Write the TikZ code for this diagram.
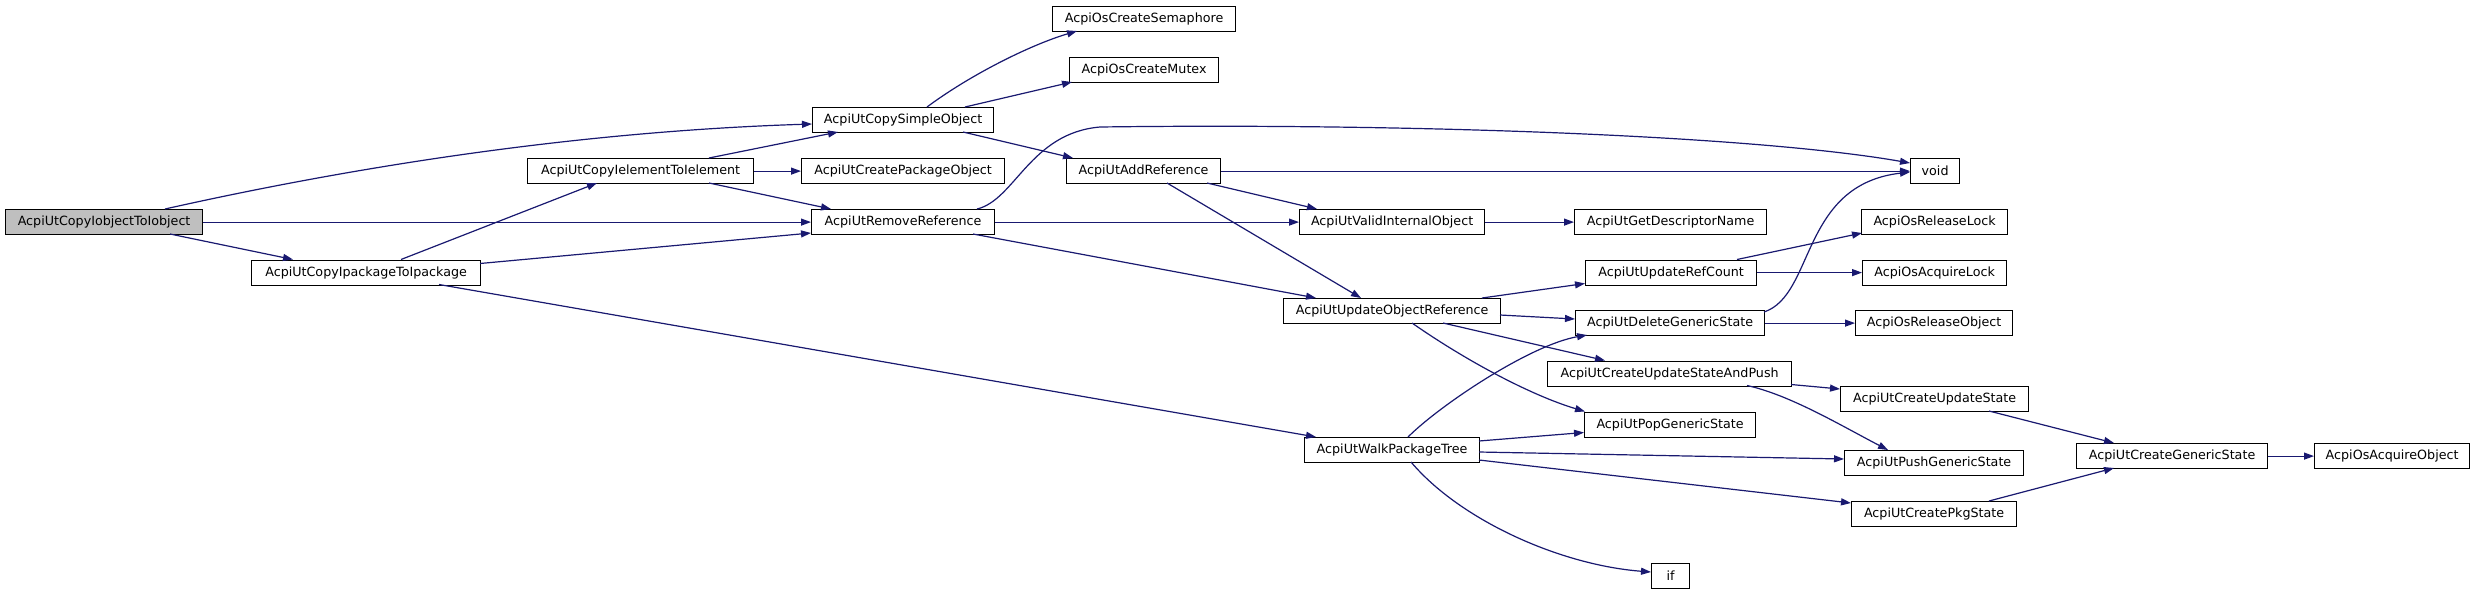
\documentclass[tikz,border=0pt]{standalone}
\usepackage{fontspec}
\setmainfont{DejaVu Sans}
\usetikzlibrary{arrows.meta,calc}
\definecolor{edgec}{HTML}{191970}
\definecolor{hl}{HTML}{BFBFBF}
\tikzset{
  fn/.style={draw=black, line width=1.2pt, fill=white, rectangle, minimum height=25pt,
    inner sep=1pt, anchor=north west, font=\fontsize{12.7}{15}\selectfont},
  cn/.style={draw=edgec, line width=1.2pt, -{Triangle[length=10pt,width=7pt]}}
}
\begin{document}
\begin{tikzpicture}[x=1pt,y=-1pt]
\useasboundingbox[fill=white] (0,0) rectangle (2475,595);
% nodes
\node[fn, fill=hl, minimum width=197pt] (io) at (5,209) {AcpiUtCopyIobjectToIobject};
\node[fn, minimum width=229pt] (ipk) at (251,259.5) {AcpiUtCopyIpackageToIpackage};
\node[fn, minimum width=183pt] (sem) at (1052,6) {AcpiOsCreateSemaphore};
\node[fn, minimum width=149pt] (mutex) at (1069,57) {AcpiOsCreateMutex};
\node[fn, minimum width=181pt] (simple) at (812,107) {AcpiUtCopySimpleObject};
\node[fn, minimum width=226pt] (iel) at (527,158) {AcpiUtCopyIelementToIelement};
\node[fn, minimum width=203pt] (cpo) at (801,158) {AcpiUtCreatePackageObject};
\node[fn, minimum width=154pt] (addref) at (1066,158) {AcpiUtAddReference};
\node[fn, minimum width=183pt] (remref) at (811,209) {AcpiUtRemoveReference};
\node[fn, minimum width=49pt] (void) at (1910,158) {void};
\node[fn, minimum width=185pt] (valid) at (1299,209) {AcpiUtValidInternalObject};
\node[fn, minimum width=192pt] (gdn) at (1574,209) {AcpiUtGetDescriptorName};
\node[fn, minimum width=146pt] (orl) at (1861,209) {AcpiOsReleaseLock};
\node[fn, minimum width=171pt] (urc) at (1585,259.5) {AcpiUtUpdateRefCount};
\node[fn, minimum width=144pt] (oal) at (1862,259.5) {AcpiOsAcquireLock};
\node[fn, minimum width=217pt] (uor) at (1283,298) {AcpiUtUpdateObjectReference};
\node[fn, minimum width=189pt] (dgs) at (1575,310) {AcpiUtDeleteGenericState};
\node[fn, minimum width=157pt] (oro) at (1855,310) {AcpiOsReleaseObject};
\node[fn, minimum width=244pt] (cusp) at (1547,360.5) {AcpiUtCreateUpdateStateAndPush};
\node[fn, minimum width=188pt] (cus) at (1840,386) {AcpiUtCreateUpdateState};
\node[fn, minimum width=171pt] (pop) at (1584,411.5) {AcpiUtPopGenericState};
\node[fn, minimum width=175pt] (walk) at (1304,437) {AcpiUtWalkPackageTree};
\node[fn, minimum width=179pt] (push) at (1844,450) {AcpiUtPushGenericState};
\node[fn, minimum width=165pt] (pkg) at (1851,501) {AcpiUtCreatePkgState};
\node[fn, minimum width=38pt] (if) at (1651,563) {if};
\node[fn, minimum width=191pt] (cgs) at (2076,443) {AcpiUtCreateGenericState};
\node[fn, minimum width=155pt] (oao) at (2314,443) {AcpiOsAcquireObject};
% connectors
\draw[cn] ($(io.north west)+(160,0)$) .. controls (330,172) and (560,132) .. ($(simple.north west)+(0,17)$);
\draw[cn] (io.east) -- (remref.west);
\draw[cn] ($(io.north west)+(165,25)$) -- ($(ipk.north west)+(42,0)$);
\draw[cn] ($(ipk.north west)+(150,0)$) -- ($(iel.north west)+(70,25)$);
\draw[cn] ($(ipk.north west)+(229,4)$) -- ($(remref.north west)+(0,24)$);
\draw[cn] ($(ipk.north west)+(188,25)$) -- ($(walk.north west)+(12,0)$);
\draw[cn] ($(iel.north west)+(182,0)$) -- ($(simple.north west)+(26,25)$);
\draw[cn] (iel.east) -- (cpo.west);
\draw[cn] ($(iel.north west)+(182,25)$) -- ($(remref.north west)+(20,0)$);
\draw[cn] ($(simple.north west)+(115,0)$) .. controls (970,75) and (1030,45) .. ($(sem.north west)+(25,25)$);
\draw[cn] ($(simple.north west)+(153,0)$) -- ($(mutex.north west)+(3,25)$);
\draw[cn] ($(simple.north west)+(151,25)$) -- ($(addref.north west)+(7,0)$);
\draw[cn] ($(remref.north west)+(166,0)$) .. controls (1015,200) and (1030,133) .. (1100,127) .. controls (1400,123) and (1750,135) .. ($(void.north west)+(0,5)$);
\draw[cn] (remref.east) -- (valid.west);
\draw[cn] ($(remref.north west)+(162,25)$) -- ($(uor.north west)+(33,0)$);
\draw[cn] (addref.east) -- (void.west);
\draw[cn] ($(addref.north west)+(141,25)$) -- ($(valid.north west)+(18,0)$);
\draw[cn] ($(addref.north west)+(101,25)$) -- ($(uor.north west)+(78,0)$);
\draw[cn] (valid.east) -- (gdn.west);
\draw[cn] ($(uor.north west)+(199,0)$) -- ($(urc.north west)+(0,24)$);
\draw[cn] ($(uor.north west)+(217,17)$) -- ($(dgs.north west)+(0,9)$);
\draw[cn] ($(uor.north west)+(160,25)$) -- ($(cusp.north west)+(58,0)$);
\draw[cn] ($(uor.north west)+(129,25)$) .. controls (1465,360) and (1530,395) .. ($(pop.north west)+(1,0)$);
\draw[cn] ($(walk.north west)+(104,0)$) .. controls (1440,405) and (1530,345) .. ($(dgs.north west)+(12,25)$);
\draw[cn] ($(walk.north west)+(175,4)$) -- ($(pop.north west)+(0,21)$);
\draw[cn] ($(walk.north west)+(175,15)$) -- ($(push.north west)+(0,9)$);
\draw[cn] ($(walk.north west)+(175,23)$) -- ($(pkg.north west)+(0,2)$);
\draw[cn] ($(walk.north west)+(107,25)$) .. controls (1460,520) and (1560,565) .. ($(if.north west)+(0,9)$);
\draw[cn] ($(urc.north west)+(152,0)$) -- ($(orl.north west)+(1,24)$);
\draw[cn] (urc.east) -- (oal.west);
\draw[cn] ($(dgs.north west)+(189,2)$) .. controls (1815,295) and (1800,185) .. ($(void.north west)+(0,14)$);
\draw[cn] (dgs.east) -- (oro.west);
\draw[cn] ($(cusp.north west)+(244,24)$) -- ($(cus.north west)+(0,3)$);
\draw[cn] ($(cusp.north west)+(200,25)$) .. controls (1790,395) and (1840,425) .. ($(push.north west)+(44,0)$);
\draw[cn] ($(cus.north west)+(149,25)$) -- ($(cgs.north west)+(38,0)$);
\draw[cn] ($(pkg.north west)+(138,0)$) -- ($(cgs.north west)+(38,25)$);
\draw[cn] (cgs.east) -- (oao.west);
\end{tikzpicture}
\end{document}
